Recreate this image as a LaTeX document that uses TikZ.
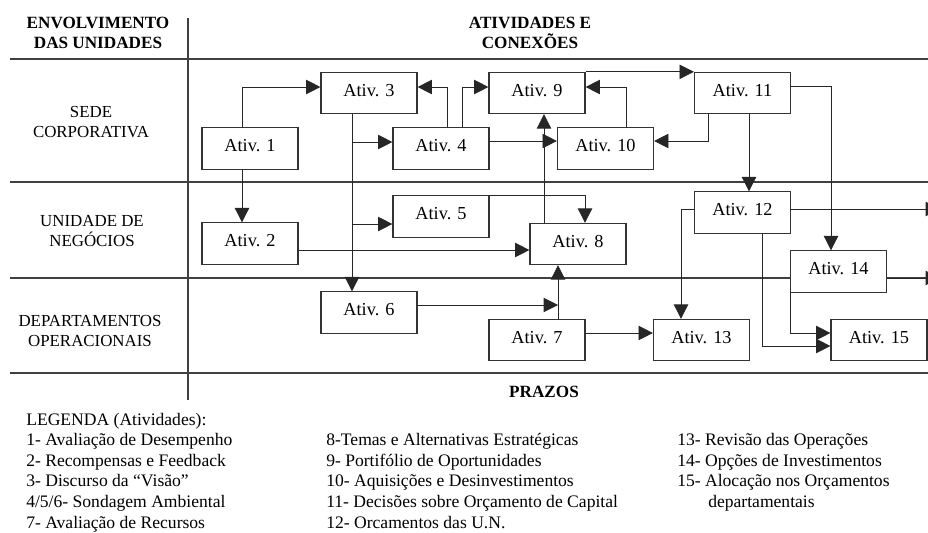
\documentclass[tikz,border=0pt]{standalone}
\usepackage{fontspec}
\setmainfont{Liberation Serif}
\usetikzlibrary{arrows.meta}

\begin{document}
\begin{tikzpicture}[x=0.025cm, y=-0.025cm, >={Triangle[length=0.36cm, width=0.36cm]},
    ativ/.style={draw=black!80, line width=0.8pt, fill=white, minimum width=2.4cm, minimum height=1.03cm, inner sep=0pt, font=\fontsize{13}{15}\selectfont, text height=8.6pt, text depth=4pt},
    link/.style={->, draw=black!85, line width=0.6pt},
    lane/.style={draw=black!75, line width=1pt},
    lbl/.style={align=center, inner sep=0pt, font=\fontsize{12}{14.2}\selectfont},
    head/.style={align=center, inner sep=0pt, font=\fontsize{12.2}{14.2}\selectfont\bfseries},
    leg/.style={anchor=base west, inner sep=0pt, font=\fontsize{12.5}{15}\selectfont}]
    \useasboundingbox (0,0) rectangle (928,533);

    % Lanes
    \draw[lane] (188,18) -- (188,400);
    \draw[lane] (10,59) -- (928,59);
    \draw[lane] (10,182) -- (928,182);
    \draw[lane] (10,278) -- (928,278);
    \draw[lane] (10,373) -- (928,373);

    % Headings
    \node[head] (envolv) at (98,33) {ENVOLVIMENTO\\DAS UNIDADES};
    \node[head] (ativcon) at (530,33) {ATIVIDADES E\\CONEXÕES};
    \node[head] (prazos) at (544,392) {PRAZOS};
    \node[lbl] (sede) at (91,122) {SEDE\\CORPORATIVA};
    \node[lbl] (unid) at (92,231) {UNIDADE DE\\NEGÓCIOS};
    \node[lbl] (dept) at (90,331) {DEPARTAMENTOS\\OPERACIONAIS};

    % Define activities
    \node[ativ] (a1) at (250,148.5) {Ativ. 1};
    \node[ativ] (a2) at (250,243.5) {Ativ. 2};
    \node[ativ] (a3) at (369,93) {Ativ. 3};
    \node[ativ] (a4) at (441,148.5) {Ativ. 4};
    \node[ativ] (a5) at (441,216.5) {Ativ. 5};
    \node[ativ] (a6) at (369,312.5) {Ativ. 6};
    \node[ativ] (a7) at (537,340) {Ativ. 7};
    \node[ativ] (a8) at (578,244) {Ativ. 8};
    \node[ativ] (a9) at (537,93) {Ativ. 9};
    \node[ativ] (a10) at (605.5,148.5) {Ativ. 10};
    \node[ativ] (a11) at (742.5,93) {Ativ. 11};
    \node[ativ] (a12) at (742.5,212.5) {Ativ. 12};
    \node[ativ] (a13) at (701.5,340) {Ativ. 13};
    \node[ativ] (a14) at (838.5,271.5) {Ativ. 14};
    \node[ativ] (a15) at (879,340) {Ativ. 15};

    % Junctions and open ends
    \coordinate (j4) at (352,142);
    \coordinate (j5) at (352,224);
    \coordinate (j7) at (558,305);
    \coordinate (out12) at (940,209);
    \coordinate (out14) at (940,278);

    % Draw connections
    \draw[link] (242,0 |- a1.north) |- (a3.west |- 0,87); % 1 -> 3
    \draw[link] (242,0 |- a1.south) -- (242,0 |- a2.north); % 1 -> 2
    \draw[link] (352,0 |- a3.south) -- (352,0 |- a6.north); % 3 -> 6
    \draw[link] (j4) -- (a4.west |- j4); % 3 -> 4
    \draw[link] (j5) -- (a5.west |- j5); % 3 -> 5
    \draw[link] (447,0 |- a4.north) |- (a3.east |- 0,87); % 4 -> 3
    \draw[link] (462,0 |- a4.north) |- (a9.west |- 0,87); % 4 -> 9
    \draw[link] (a4.east |- 0,141) -- (a10.west |- 0,141); % 4 -> 10
    \draw[link] (544,0 |- a8.north) -- (544,0 |- a9.south); % 8 -> 9
    \draw[link] (626,0 |- a10.north) |- (a9.east |- 0,87); % 10 -> 9
    \draw[link] (a9.north east) -- (a11.north west); % 9 -> 11
    \draw[link] (708,0 |- a11.south) |- (a10.east |- 0,141); % 11 -> 10
    \draw[link] (749,0 |- a11.south) -- (749,0 |- a12.north); % 11 -> 12
    \draw[link] (a11.east |- 0,86) -| (831,0 |- a14.north); % 11 -> 14
    \draw[link] (a5.north east) -| (585,0 |- a8.north); % 5 -> 8
    \draw[link] (a2.east |- 0,250) -- (a8.west |- 0,250); % 2 -> 8
    \draw[link] (a6.east |- j7) -- (j7); % 6 -> 7/8
    \draw[link] (558,0 |- a7.north) -- (558,0 |- a8.south); % 7 -> 8
    \draw[link] (a7.east |- 0,333) -- (a13.west |- 0,333); % 7 -> 13
    \draw[link] (a12.west |- out12) -| (681,0 |- a13.north); % 12 -> 13
    \draw[link] (a12.east |- out12) -- (out12); % 12 -> out
    \draw[link] (a14.east |- out14) -- (out14); % 14 -> out
    \draw[link] (762,0 |- a12.south) |- (a15.west |- 0,346); % 12 -> 15
    \draw[link] (a14.south west) |- (a15.west |- 0,333); % 14 -> 15

    % Legend
    \node[leg] (leg0) at (26,425) {LEGENDA (Atividades):};
    \node[leg] (leg1) at (26,445.6) {1- Avaliação de Desempenho};
    \node[leg] (leg2) at (26,466.2) {2- Recompensas e Feedback};
    \node[leg] (leg3) at (26,486.8) {3- Discurso da “Visão”};
    \node[leg] (leg4) at (26,507.4) {4/5/6- Sondagem Ambiental};
    \node[leg] (leg7) at (26,528) {7- Avaliação de Recursos};
    \node[leg] (leg8) at (326,445.6) {8-Temas e Alternativas Estratégicas};
    \node[leg] (leg9) at (326,466.2) {9- Portifólio de Oportunidades};
    \node[leg] (leg10) at (326,486.8) {10- Aquisições e Desinvestimentos};
    \node[leg] (leg11) at (326,507.4) {11- Decisões sobre Orçamento de Capital};
    \node[leg] (leg12) at (326,528) {12- Orcamentos das U.N.};
    \node[leg] (leg13) at (677,445.6) {13- Revisão das Operações};
    \node[leg] (leg14) at (677,466.2) {14- Opções de Investimentos};
    \node[leg] (leg15) at (677,486.8) {15- Alocação nos Orçamentos};
    \node[leg] (leg15b) at (708,507.4) {departamentais};
\end{tikzpicture}
\end{document}
